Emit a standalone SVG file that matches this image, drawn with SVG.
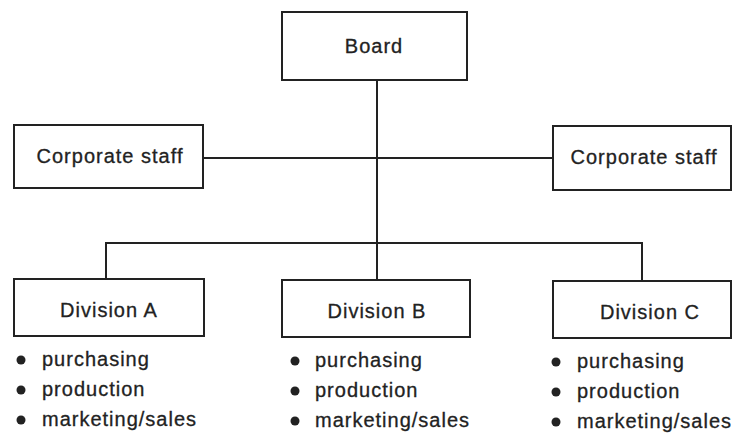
<svg xmlns="http://www.w3.org/2000/svg" width="733" height="434" viewBox="0 0 733 434">
<style>
.box{fill:#fff;stroke:#222;stroke-width:2}
.ln{fill:none;stroke:#222;stroke-width:2}
text{font-family:"Liberation Sans",Arial,sans-serif;font-size:20px;fill:#222;stroke:#222;stroke-width:0.3;letter-spacing:1px}
.c{text-anchor:middle}
.b{fill:#222}
</style>
<rect width="733" height="434" fill="#fff"/>
<g id="connectors">
<line class="ln" x1="377" y1="80" x2="377" y2="280"/>
<line class="ln" x1="203" y1="158" x2="553" y2="158"/>
<polyline class="ln" points="106,279 106,243 642,243 642,281"/>
</g>
<g id="board"><rect class="box" x="282" y="12" width="185" height="68"/><text class="c" x="374" y="53">Board</text></g>
<g id="staff-left"><rect class="box" x="14" y="125" width="189" height="63"/><text class="c" x="110" y="163">Corporate staff</text></g>
<g id="staff-right"><rect class="box" x="553" y="126" width="178" height="64"/><text class="c" x="644" y="164">Corporate staff</text></g>
<g id="division-a"><rect class="box" x="14" y="279" width="190" height="57"/><text class="c" x="109" y="317">Division A</text>
<circle class="b" cx="21" cy="360" r="4.5"/><circle class="b" cx="21" cy="390" r="4.5"/><circle class="b" cx="21" cy="420" r="4.5"/>
<text x="42" y="366">purchasing</text><text x="42" y="396">production</text><text x="42" y="426">marketing/sales</text></g>
<g id="division-b"><rect class="box" x="282" y="280" width="188" height="57"/><text class="c" x="377" y="318">Division B</text>
<circle class="b" cx="295" cy="361" r="4.5"/><circle class="b" cx="295" cy="391" r="4.5"/><circle class="b" cx="295" cy="421" r="4.5"/>
<text x="315" y="367">purchasing</text><text x="315" y="397">production</text><text x="315" y="427">marketing/sales</text></g>
<g id="division-c"><rect class="box" x="553" y="281" width="178" height="57"/><text class="c" x="650" y="319">Division C</text>
<circle class="b" cx="556" cy="362" r="4.5"/><circle class="b" cx="556" cy="392" r="4.5"/><circle class="b" cx="556" cy="422" r="4.5"/>
<text x="577" y="368">purchasing</text><text x="577" y="398">production</text><text x="577" y="428">marketing/sales</text></g>
</svg>
